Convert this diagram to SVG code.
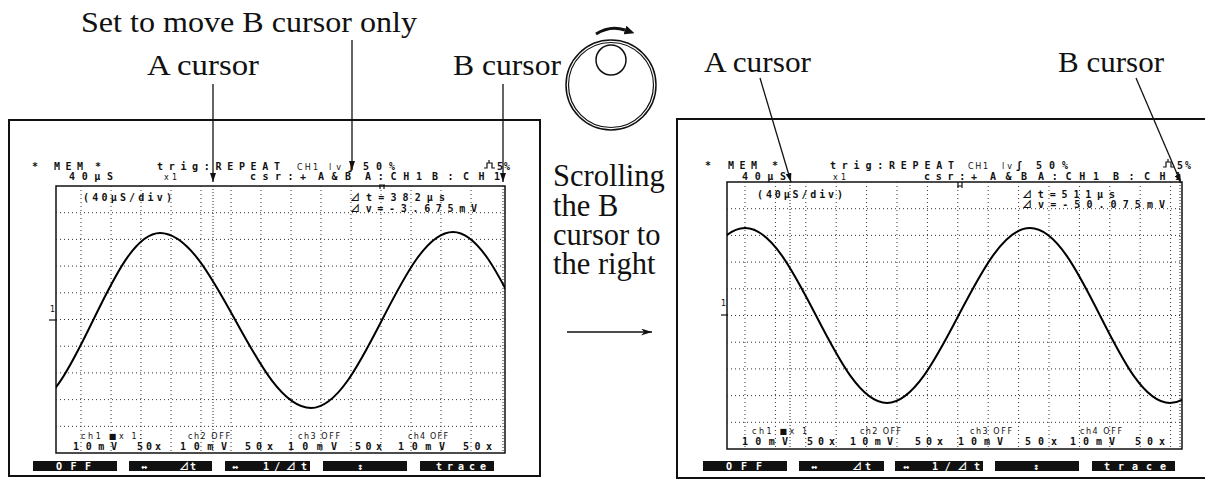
<svg xmlns="http://www.w3.org/2000/svg" width="1205" height="492" viewBox="0 0 1205 492">
<style>
.lbl{font-family:"Liberation Serif","Times New Roman",serif;font-size:30px;fill:#111}
.big{font-family:"Liberation Serif","Times New Roman",serif;font-size:30.5px;fill:#111}
.lcd{font-family:"DejaVu Sans Mono","Liberation Mono","Noto Sans CJK JP",monospace;font-size:10px;font-weight:bold;fill:#111}
.sm{font-family:"DejaVu Sans","Liberation Sans",sans-serif;font-size:8px;font-weight:normal;fill:#111}
.key{fill:#111}
.kt{font-family:"DejaVu Sans Mono","Liberation Mono","Noto Sans CJK JP",monospace;font-size:10px;font-weight:bold;fill:#fff}
.grid{fill:none;stroke:#333;stroke-width:1;stroke-dasharray:1 3}
.cur{fill:none;stroke:#222;stroke-width:1;stroke-dasharray:1 2}
.frame{fill:none;stroke:#111;stroke-width:2}
.scr{fill:none;stroke:#111;stroke-width:1.5}
.wave{fill:none;stroke:#000;stroke-width:2}
.ptr{fill:none;stroke:#111;stroke-width:1.3}
.tick{fill:none;stroke:#111;stroke-width:1.2}
</style>
<defs>
<marker id="ah" viewBox="0 0 10 10" refX="10" refY="5" markerWidth="9" markerHeight="6" preserveAspectRatio="none" orient="auto" markerUnits="userSpaceOnUse"><path d="M0,0L10,5L0,10z" fill="#111"/></marker>
<marker id="ahk" viewBox="0 0 10 10" refX="0" refY="5" markerWidth="10" markerHeight="9" preserveAspectRatio="none" orient="auto" markerUnits="userSpaceOnUse"><path d="M0,0L10,5L0,10z" fill="#111"/></marker>
<marker id="ahs" viewBox="0 0 10 10" refX="10" refY="5" markerWidth="11" markerHeight="7" preserveAspectRatio="none" orient="auto" markerUnits="userSpaceOnUse"><path d="M0,0L10,5L0,10L3,5z" fill="#111"/></marker>
<clipPath id="cl"><rect x="56" y="186" width="449" height="267"/></clipPath>
<clipPath id="cr"><rect x="727" y="182" width="455" height="267"/></clipPath>
</defs>

<g id="label-set-b-only"><text class="lbl" x="81" y="32" textLength="336" lengthAdjust="spacingAndGlyphs">Set to move B cursor only</text></g>
<g id="label-a-cursor-left"><text class="lbl" x="147" y="75" textLength="112" lengthAdjust="spacingAndGlyphs">A cursor</text></g>
<g id="label-b-cursor-left"><text class="lbl" x="453" y="75" textLength="108" lengthAdjust="spacingAndGlyphs">B cursor</text></g>
<g id="label-a-cursor-right"><text class="lbl" x="704" y="72" textLength="107" lengthAdjust="spacingAndGlyphs">A cursor</text></g>
<g id="label-b-cursor-right"><text class="lbl" x="1058" y="72" textLength="106" lengthAdjust="spacingAndGlyphs">B cursor</text></g>

<g id="knob">
<circle cx="611" cy="85" r="45" fill="none" stroke="#111" stroke-width="1.5"/>
<circle cx="611" cy="85" r="42.5" fill="none" stroke="#111" stroke-width="1.2"/>
<circle cx="611" cy="60" r="15" fill="none" stroke="#111" stroke-width="1.5"/>
<path d="M596 34Q610 25 625 30" fill="none" stroke="#111" stroke-width="3" marker-end="url(#ahk)"/>
</g>

<g id="scroll-note">
<text class="big"><tspan x="553" y="186">Scrolling</tspan><tspan x="553" y="216">the B</tspan><tspan x="553" y="245">cursor to</tspan><tspan x="553" y="274">the right</tspan></text>
</g>

<g id="screen-left">
<rect class="frame" x="9" y="120" width="531" height="356"/>
<g class="lcd">
<text x="32" y="170">*</text>
<text x="54" y="170" textLength="29">MEM</text>
<text x="95" y="170">*</text>
<text x="157" y="170" textLength="123">trig:REPEAT</text>
<text x="297" y="170" class="sm" textLength="21">CH1</text>
<text x="329" y="170" class="sm" textLength="12">lv</text>
<text x="348" y="170">ʃ</text>
<text x="363" y="170" textLength="32">50%</text>
<text x="497" y="170" textLength="13">5%</text>
<text x="69" y="180" textLength="44">40µS</text>
<text x="164" y="180" class="sm" textLength="13">x1</text>
<text x="250" y="180" textLength="56">csr:+</text>
<text x="318" y="180" textLength="33">A&amp;B</text>
<text x="365" y="180" textLength="57">A:CH1</text>
<text x="432" y="180" textLength="68">B:CH1</text>
</g>
<path class="tick" d="M484 168h3v-5h5v5h3M489 160v3"/>
<rect class="scr" x="56" y="186" width="449" height="267"/>
<path class="grid" d="M56 212.7H505M56 239.4H505M56 266.1H505M56 292.8H505M56 319.5H505M56 346.2H505M56 372.9H505M56 399.6H505M56 426.3H505"/>
<path class="grid" d="M81 186V453M111 186V453M141 186V453M171 186V453M201 186V453M231 186V453M261 186V453M291 186V453M321 186V453M351 186V453M381 186V453M411 186V453M441 186V453M471 186V453"/>
<path class="cur" d="M213 186V453M503 186V453"/>
<path class="tick" d="M380 185v4M384 185v4M379 185h6"/>
<text class="sm" x="50" y="312">1</text>
<path class="tick" d="M49 320h8"/>
<g class="lcd">
<text x="83" y="201" textLength="89">(40µS/div)</text>
<text x="350" y="201" textLength="95">⊿t=382µs</text>
<text x="350" y="212" textLength="127">⊿v=-3.675mV</text>
</g>
<path class="wave" clip-path="url(#cl)" d="M26 408C74.8 408 111.2 233 160 233C215 233 256 408 311 408C362.7 408 401.3 232 453 232C502.9 232 540 408 590 408"/>
<g class="lcd">
<text class="sm" x="81" y="439" font-size="10" textLength="61">ch1 ■x 1:</text>
<text class="sm" x="188" y="439" font-size="10" textLength="42">ch2 OFF</text>
<text class="sm" x="298" y="439" font-size="10" textLength="42">ch3 OFF</text>
<text class="sm" x="408" y="439" font-size="10" textLength="40">ch4 OFF</text>
<text x="73" y="450" textLength="44">10mV</text>
<text x="137" y="450" textLength="24">50x</text>
<text x="180" y="450" textLength="47">10mV</text>
<text x="245" y="450" textLength="28">50x</text>
<text x="288" y="450" textLength="49">10mV</text>
<text x="355" y="450" textLength="27">50x</text>
<text x="398" y="450" textLength="47">10mV</text>
<text x="463" y="450" textLength="29">50x</text>
</g>
<rect class="key" x="33" y="461" width="84" height="10"/>
<rect class="key" x="129" y="461" width="83" height="10"/>
<rect class="key" x="225" y="461" width="85" height="10"/>
<rect class="key" x="323" y="461" width="84" height="10"/>
<rect class="key" x="420" y="461" width="74" height="10"/>
<text class="kt" x="56" y="470" textLength="35">OFF</text>
<text class="kt" x="141" y="470">↔</text>
<text class="kt" x="179" y="470" textLength="17">⊿t</text>
<text class="kt" x="232" y="470">↔</text>
<text class="kt" x="263" y="470" textLength="44">1/⊿t</text>
<text class="kt" x="357" y="470">↕</text>
<text class="kt" x="436" y="470" textLength="50">trace</text>
</g>

<g id="screen-right">
<path class="frame" d="M1206 119H677V478H1206"/>
<g class="lcd">
<text x="705" y="169">*</text>
<text x="728" y="169" textLength="29">MEM</text>
<text x="772" y="169">*</text>
<text x="830" y="169" textLength="124">trig:REPEAT</text>
<text x="968" y="169" class="sm" textLength="20">CH1</text>
<text x="1002" y="169" class="sm" textLength="10">lv</text>
<text x="1016" y="169">ʃ</text>
<text x="1036" y="169" textLength="32">50%</text>
<text x="1177" y="169" textLength="14">5%</text>
<text x="742" y="180" textLength="44">40µS</text>
<text x="833" y="180" class="sm" textLength="13">x1</text>
<text x="924" y="180" textLength="53">csr:+</text>
<text x="990" y="180" textLength="37">A&amp;B</text>
<text x="1038" y="180" textLength="61">A:CH1</text>
<text x="1113" y="180" textLength="68">B:CH1</text>
</g>
<path class="tick" d="M1163 167h3v-5h5v5h3M1168 159v3"/>
<rect class="scr" x="727" y="182" width="455" height="267"/>
<path class="grid" d="M727 208.7H1182M727 235.4H1182M727 262.1H1182M727 288.8H1182M727 315.5H1182M727 342.2H1182M727 368.9H1182M727 395.6H1182M727 422.3H1182"/>
<path class="grid" d="M745 182V449M775.4 182V449M805.8 182V449M836.2 182V449M866.6 182V449M897 182V449M927.4 182V449M957.8 182V449M988.2 182V449M1018.6 182V449M1049 182V449M1079.4 182V449M1109.8 182V449M1140.2 182V449M1170.6 182V449"/>
<path class="cur" d="M790 182V449M1180 182V449"/>
<path class="tick" d="M958 182v6M962 182v6M958 186h4"/>
<text class="sm" x="721" y="306">1</text>
<path class="tick" d="M721 315h7"/>
<g class="lcd">
<text x="757" y="198" textLength="86">(40µS/div)</text>
<text x="1022" y="198" textLength="93">⊿t=511µs</text>
<text x="1022" y="208" textLength="143">⊿v=-50.075mV</text>
</g>
<path class="wave" clip-path="url(#cr)" d="M603 403C654.7 403 693.3 228 745 228C796.7 228 835.3 403 887 403C938.7 403 978.3 228 1030 228C1081.7 228 1118.3 403 1170 403C1221.7 403 1260.3 228 1312 228"/>
<g class="lcd">
<text class="sm" x="752" y="434" font-size="10" textLength="55">ch1 ■x 1</text>
<text class="sm" x="860" y="434" font-size="10" textLength="41">ch2 OFF</text>
<text class="sm" x="970" y="434" font-size="10" textLength="42">ch3 OFF</text>
<text class="sm" x="1080" y="434" font-size="10" textLength="42">ch4 OFF</text>
<text x="742" y="445" textLength="46">10mV</text>
<text x="807" y="445" textLength="28">50x</text>
<text x="850" y="445" textLength="43">10mV</text>
<text x="915" y="445" textLength="28">50x</text>
<text x="958" y="445" textLength="45">10mV</text>
<text x="1025" y="445" textLength="32">50x</text>
<text x="1070" y="445" textLength="45">10mV</text>
<text x="1135" y="445" textLength="30">50x</text>
</g>
<rect class="key" x="703" y="461" width="84" height="10"/>
<rect class="key" x="799" y="461" width="85" height="10"/>
<rect class="key" x="895" y="461" width="88" height="10"/>
<rect class="key" x="995" y="461" width="84" height="10"/>
<rect class="key" x="1092" y="461" width="83" height="10"/>
<text class="kt" x="726" y="470" textLength="36">OFF</text>
<text class="kt" x="811" y="470">↔</text>
<text class="kt" x="852" y="470" textLength="19">⊿t</text>
<text class="kt" x="903" y="470">↔</text>
<text class="kt" x="932" y="470" textLength="48">1/⊿t</text>
<text class="kt" x="1033" y="470">↕</text>
<text class="kt" x="1104" y="470" textLength="62">trace</text>
</g>

<g id="connectors">
<line class="ptr" x1="352" y1="40" x2="352" y2="170" marker-end="url(#ah)"/>
<line class="ptr" x1="213" y1="84" x2="213" y2="182" marker-end="url(#ah)"/>
<line class="ptr" x1="503" y1="84" x2="503" y2="182" marker-end="url(#ah)"/>
<line class="ptr" x1="760" y1="78" x2="791" y2="182" marker-end="url(#ah)"/>
<line class="ptr" x1="1136" y1="78" x2="1181" y2="183" marker-end="url(#ah)"/>
<line class="ptr" x1="567" y1="332" x2="652" y2="332" stroke-width="1.5" marker-end="url(#ahs)"/>
</g>
</svg>
